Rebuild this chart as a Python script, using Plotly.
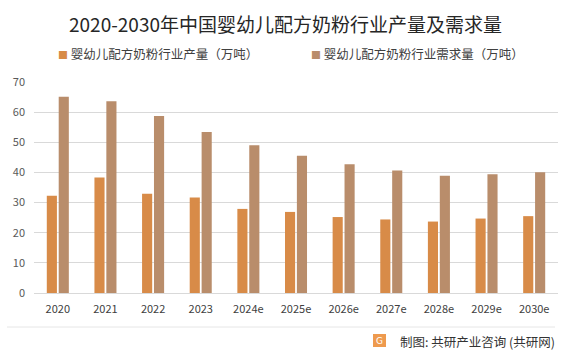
import plotly.graph_objects as go

years = ["2020", "2021", "2022", "2023", "2024e", "2025e", "2026e", "2027e", "2028e", "2029e", "2030e"]
production = [32.3, 38.3, 32.9, 31.7, 27.9, 26.9, 25.2, 24.4, 23.7, 24.7, 25.5]
demand = [65.1, 63.6, 58.7, 53.4, 49.0, 45.5, 42.7, 40.6, 38.9, 39.4, 40.1]
name_prod = "婴幼儿配方奶粉行业产量（万吨）"
name_dem = "婴幼儿配方奶粉行业需求量（万吨）"
title_text = "2020-2030年中国婴幼儿配方奶粉行业产量及需求量"
source_text = "制图: 共研产业咨询 (共研网)"

c_prod = "#D88B48"
c_dem = "#B98D6B"
FONT = "Noto Sans CJK SC"

fig = go.Figure()
fig.add_trace(go.Bar(x=years, y=production, name=name_prod, marker_color=c_prod, marker_line_width=0))
fig.add_trace(go.Bar(x=years, y=demand, name=name_dem, marker_color=c_dem, marker_line_width=0))

W, H = 571, 356
L, R, T, B = 34, 13, 82, 63
PW, PH = W - L - R, H - T - B
ppx = lambda px: (px - L) / PW
ppy = lambda py: (H - B - py) / PH

fig.update_layout(
    width=W, height=H,
    margin=dict(l=L, r=R, t=T, b=B),
    paper_bgcolor="white", plot_bgcolor="white",
    barmode="group", bargap=0.5, bargroupgap=0.15,
    showlegend=False,
    font=dict(family=FONT, color="#595959", size=11),
    title=dict(text=title_text, x=0.5, xanchor="center", y=1 - 25 / H, yanchor="middle",
               font=dict(size=19, color="#262626", family=FONT)),
)
fig.update_yaxes(range=[0, 70], dtick=10, showgrid=True, gridcolor="#D9D9D9", gridwidth=1,
                 zeroline=False, showline=False, ticks="", ticklabelstandoff=8,
                 tickfont=dict(size=11, color="#595959"))
fig.update_xaxes(showline=True, linecolor="#D9D9D9", linewidth=1, ticks="", ticklabelstandoff=6,
                 tickfont=dict(size=11, color="#404040"))

# legend as annotations
for xpx, name, col in [(56, name_prod, c_prod), (309, name_dem, c_dem)]:
    fig.add_annotation(xref="paper", yref="paper",
                       x=ppx(xpx), y=ppy(53), xanchor="left", yanchor="middle",
                       text=f"<span style='color:{col};font-size:10px'>■</span> {name}",
                       showarrow=False, font=dict(size=12.5, color="#404040", family=FONT))

# bottom separator line
fig.add_shape(type="line", xref="paper", yref="paper",
              x0=ppx(7), x1=ppx(555), y0=ppy(327), y1=ppy(327),
              line=dict(color="#E6E6E6", width=1))

# source icon + text
fig.add_shape(type="rect", xref="paper", yref="paper",
              x0=ppx(373), x1=ppx(386), y0=ppy(347), y1=ppy(334),
              fillcolor="#EE9A4E", line=dict(width=0))
fig.add_annotation(xref="paper", yref="paper", x=ppx(379.5), y=ppy(340.5), text="G",
                   showarrow=False, font=dict(size=9, color="white", family="DejaVu Sans"),
                   xanchor="center", yanchor="middle")
fig.add_annotation(xref="paper", yref="paper", x=ppx(557), y=ppy(341), text=source_text,
                   showarrow=False, xanchor="right", yanchor="middle",
                   font=dict(size=12.5, color="#333333", family=FONT))

fig.write_html("out.html", config={"displayModeBar": False},
               post_script="document.body.style.margin='0';document.body.style.padding='0';")
